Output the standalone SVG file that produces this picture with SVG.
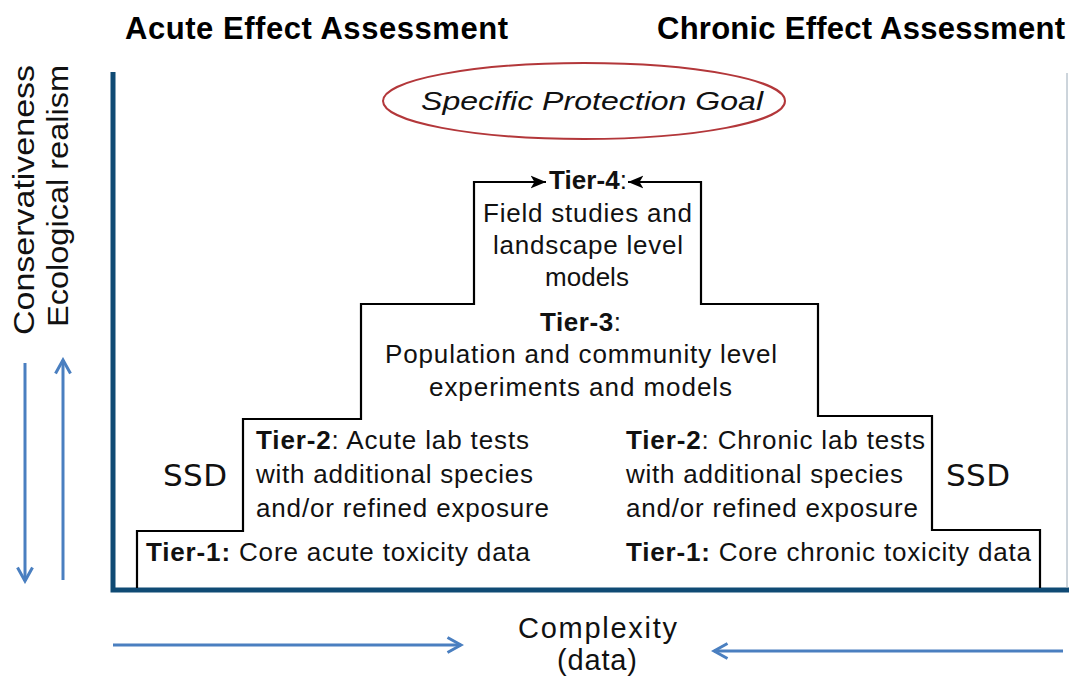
<svg xmlns="http://www.w3.org/2000/svg" width="1069" height="679" viewBox="0 0 1069 679">
<defs>
<style>
.h{font-family:"Liberation Sans",Arial,sans-serif;font-weight:bold;font-size:31px;fill:#000}
.t{font-family:"Liberation Sans",Arial,sans-serif;font-size:26px;fill:#111}
.b{font-weight:bold}
.d{font-family:"DejaVu Sans",sans-serif;font-size:31px;fill:#111}
.v{font-family:"Liberation Sans",Arial,sans-serif;font-size:29px;fill:#111}
.ax{stroke:#0f4a74;stroke-width:5;fill:none}
.st{stroke:#000;stroke-width:2.2;fill:none}
.bl{stroke:#4a7fc0;stroke-width:3;fill:none}
</style>
<marker id="ba" viewBox="0 0 12 12" refX="10" refY="6" markerWidth="6" markerHeight="6" markerUnits="strokeWidth" orient="auto">
<path d="M1,1 L10,6 L1,11" fill="none" stroke="#4a7fc0" stroke-width="2"/>
</marker>
<marker id="ka" viewBox="0 0 12 10" refX="12" refY="5" markerWidth="7" markerHeight="6" markerUnits="strokeWidth" orient="auto">
<path d="M0,0 L12,5 L0,10 L3,5 Z" fill="#000"/>
</marker>
</defs>
<rect width="1069" height="679" fill="#fff"/>
<text class="h" x="125" y="39" textLength="383">Acute Effect Assessment</text>
<text class="h" x="657" y="39" textLength="408">Chronic Effect Assessment</text>
<text class="v" transform="translate(34,335) rotate(-90)" textLength="270" lengthAdjust="spacingAndGlyphs">Conservativeness</text>
<text class="v" transform="translate(68,327) rotate(-90)" textLength="262" lengthAdjust="spacingAndGlyphs">Ecological realism</text>
<g id="axes">
<path class="ax" d="M113,72 V590 H1069"/>
<line x1="1067" y1="73" x2="1067" y2="588" stroke="#9aaab8" stroke-width="1"/>
</g>
<g id="goal">
<ellipse cx="584" cy="101" rx="201" ry="38" fill="none" stroke="#b3373a" stroke-width="2"/>
<text class="t" x="421" y="110" font-style="italic" font-size="31" textLength="342" lengthAdjust="spacingAndGlyphs">Specific Protection Goal</text>
</g>
<g id="connectors">
<path class="st" d="M137,588 V531 H243 V419 H361 V304 H474 V182 H546" marker-end="url(#ka)"/>
<path class="st" d="M1040,588 V530 H932 V416 H818 V304 H701 V182 H628" marker-end="url(#ka)"/>
<line class="bl" x1="25" y1="363" x2="25" y2="581" marker-end="url(#ba)"/>
<line class="bl" x1="63" y1="580" x2="63" y2="360" marker-end="url(#ba)"/>
<line class="bl" x1="113" y1="645" x2="461" y2="645" marker-end="url(#ba)"/>
<line class="bl" x1="1063" y1="651" x2="714" y2="651" marker-end="url(#ba)"/>
</g>
<g id="tier4">
<text class="t" x="549" y="189" textLength="78"><tspan class="b">Tier-4</tspan>:</text>
<text class="t" x="483" y="222" textLength="209">Field studies and</text>
<text class="t" x="493" y="254" textLength="190">landscape level</text>
<text class="t" x="587" y="286" text-anchor="middle">models</text>
</g>
<g id="tier3">
<text class="t" x="540" y="331" textLength="81"><tspan class="b">Tier-3</tspan>:</text>
<text class="t" x="385" y="363" textLength="392">Population and community level</text>
<text class="t" x="429" y="396" textLength="303">experiments and models</text>
</g>
<g id="tier2-acute">
<text class="t" x="256" y="449" textLength="273"><tspan class="b">Tier-2</tspan>: Acute lab tests</text>
<text class="t" x="256" y="483" textLength="277">with additional species</text>
<text class="t" x="256" y="517" textLength="293">and/or refined exposure</text>
</g>
<g id="tier2-chronic">
<text class="t" x="626" y="449" textLength="299"><tspan class="b">Tier-2</tspan>: Chronic lab tests</text>
<text class="t" x="626" y="483" textLength="277">with additional species</text>
<text class="t" x="626" y="517" textLength="292">and/or refined exposure</text>
</g>
<g id="tier1-acute">
<text class="t" x="146" y="561" textLength="384"><tspan class="b">Tier-1:</tspan> Core acute toxicity data</text>
</g>
<g id="tier1-chronic">
<text class="t" x="626" y="561" textLength="405"><tspan class="b">Tier-1:</tspan> Core chronic toxicity data</text>
</g>
<g id="ssd-left"><text class="d" x="163" y="486" textLength="64">SSD</text></g>
<g id="ssd-right"><text class="d" x="946" y="486" textLength="64">SSD</text></g>
<g id="complexity">
<text class="v" x="518" y="638" textLength="159">Complexity</text>
<text class="v" x="557" y="670" textLength="80" font-size="30">(data)</text>
</g>
</svg>
